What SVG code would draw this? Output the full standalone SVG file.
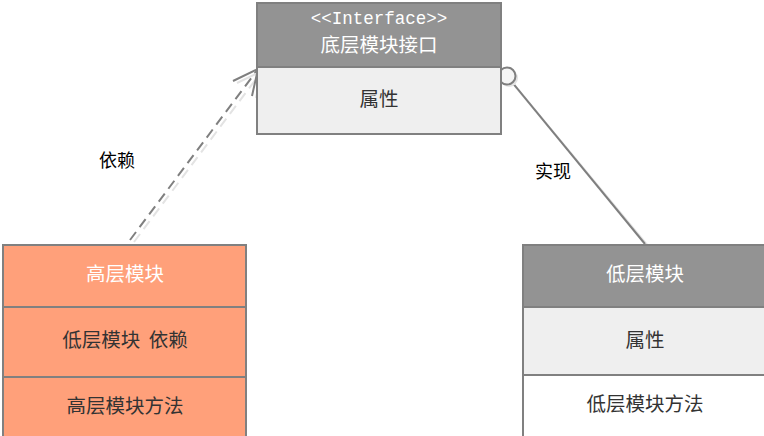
<svg xmlns="http://www.w3.org/2000/svg" width="764" height="436" viewBox="0 0 764 436">
  <style>
    .box { stroke: #808080; stroke-width: 2; }
    .hdr-gray { fill: #939393; }
    .body-light { fill: #efefef; }
    .body-white { fill: #ffffff; }
    .salmon { fill: #ffa07a; }
    .t { font-family: "Noto Sans CJK SC", "Liberation Sans", sans-serif; font-size: 19.5px; text-anchor: middle; dominant-baseline: central; fill: #333333; white-space: pre; }
    .th { fill: #ffffff; }
    .mono { font-family: "Liberation Mono", "Noto Sans CJK SC", monospace; font-size: 17.5px; }
    .lbl { font-family: "Noto Sans CJK SC", "Liberation Sans", sans-serif; font-size: 18px; text-anchor: middle; dominant-baseline: central; fill: #000000; }
    .conn { stroke: #7f7f7f; stroke-width: 2; fill: none; }
    .shadow { stroke: #e3e3e3; stroke-width: 2; fill: none; }
  </style>

  <rect width="764" height="436" fill="#ffffff"/>

  <!-- connectors -->
  <g id="connectors">
    <!-- dependency: high-level module to interface -->
    <line class="shadow" x1="134" y1="242" x2="262" y2="71" stroke-dasharray="10 6"/>
    <line class="conn" x1="130" y1="240" x2="258" y2="69" stroke-dasharray="10 6" stroke="#a0a0a0"/>
    <polyline class="shadow" points="237,83 262,71 256,98"/>
    <polyline class="conn" points="233,81 258,69 252,96" stroke="#a0a0a0"/>
    <!-- realization: low-level module to interface -->
    <line class="shadow" x1="510" y1="80" x2="648" y2="246"/>
    <line class="conn" x1="507" y1="76" x2="645" y2="244"/>
    <circle cx="509" cy="78" r="9" fill="#e3e3e3"/>
    <circle cx="507" cy="76" r="8.5" fill="#f5f5f5" stroke="#7f7f7f" stroke-width="2"/>
  </g>

  <!-- interface node -->
  <g id="interface">
    <rect class="box hdr-gray" x="257" y="3" width="244" height="64"/>
    <rect class="box body-light" x="257" y="67" width="244" height="67"/>
    <text class="t th mono" x="379" y="19">&lt;&lt;Interface&gt;&gt;</text>
    <text class="t th" x="379" y="43">底层模块接口</text>
    <text class="t" x="379" y="97">属性</text>
  </g>

  <!-- high-level module node -->
  <g id="high-level">
    <rect class="box salmon" x="3" y="245" width="243" height="62"/>
    <rect class="box salmon" x="3" y="307" width="243" height="70"/>
    <rect class="box salmon" x="3" y="377" width="243" height="70"/>
    <text class="t th" x="125" y="272">高层模块</text>
    <text class="t" x="125" y="338" xml:space="preserve">低层模块  依赖</text>
    <text class="t" x="125" y="404">高层模块方法</text>
  </g>

  <!-- low-level module node -->
  <g id="low-level">
    <rect class="box hdr-gray" x="523" y="245" width="250" height="62"/>
    <rect class="box body-light" x="523" y="307" width="250" height="68"/>
    <rect class="box body-white" x="523" y="375" width="250" height="72"/>
    <text class="t th" x="645" y="272">低层模块</text>
    <text class="t" x="645" y="338">属性</text>
    <text class="t" x="645" y="402">低层模块方法</text>
  </g>

  <!-- connector labels -->
  <text class="lbl" x="117" y="159">依赖</text>
  <text class="lbl" x="553" y="170">实现</text>
</svg>
